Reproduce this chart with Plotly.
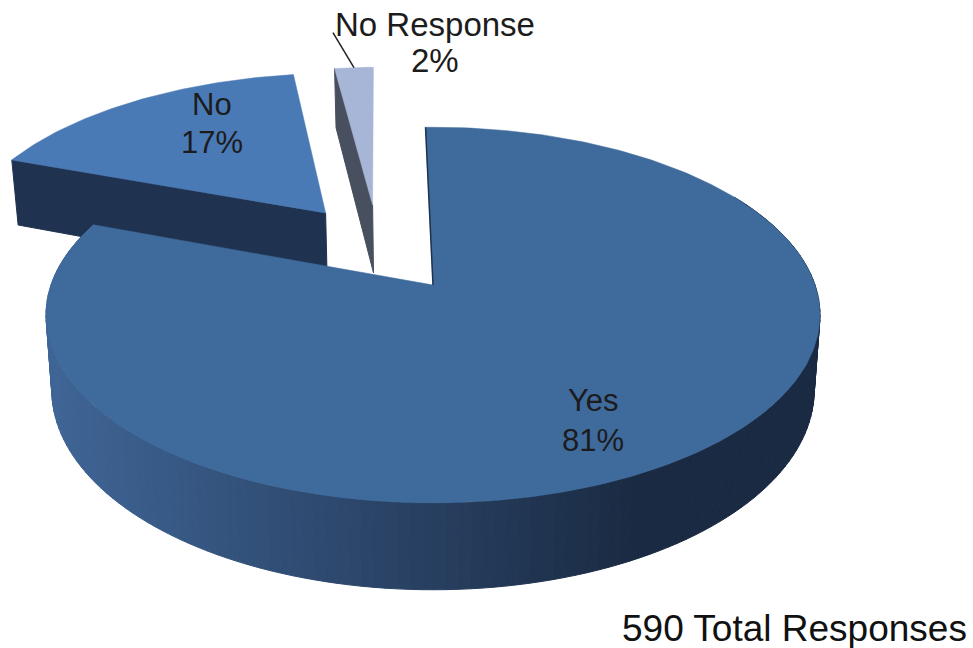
import numpy as np
import plotly.graph_objects as go

categories = ["Yes", "No", "No Response"]
percent_values = [81, 17, 2]
total_responses = 590

# Drawing geometry (pixels of the 973x648 page) for the perspective pie
CX, CY = 433, 285
RX, RY = 382, 183
PERSP = 0.16
DEPTH = 73
ROT = -1.3
DEPTH_SHRINK = 0.985
EXPLODE = {"Yes": (0, 0), "No": (-0.3, 0.42), "No Response": (-0.17, 0.47)}
TOP = {"Yes": "#3f6a9c", "No": "#4a7ab6", "No Response": "#a7b6d6"}
SIDE = {"No": "#1f3350", "No Response": "#484f5f"}


def project(u, v, down=0.0):
    s = 1 / (1 + PERSP * v)
    shrink = 1 - (1 - DEPTH_SHRINK) * down
    return CX + RX * u * s * shrink, CY - RY * v * s + DEPTH * s * down


def rim(theta, off):
    t = np.radians(theta + ROT)
    return np.sin(t) + off[0], np.cos(t) + off[1]


def poly(x, y, color, line=1.0):
    return go.Scatter(x=list(x), y=list(y), mode="lines", fill="toself", fillcolor=color,
                      line=dict(color=color, width=line), hoverinfo="skip", showlegend=False)


def mix(a, b, t):
    a = np.array([int(a[i:i + 2], 16) for i in (1, 3, 5)])
    b = np.array([int(b[i:i + 2], 16) for i in (1, 3, 5)])
    c = (a + (b - a) * np.clip(t, 0, 1)).round().astype(int)
    return f"rgb({c[0]},{c[1]},{c[2]})"


edges = np.cumsum([0] + percent_values) * 3.6
span = {c: (edges[i], edges[i + 1]) for i, c in enumerate(categories)}
traces = []

# Exploded slices, back to front: flat radial wall first, then the top face
for cat, wall_angle in (("No", span["No"][0]), ("No Response", span["No Response"][0])):
    off = EXPLODE[cat]
    u1, v1 = rim(wall_angle, off)
    ax0, ay0 = project(off[0], off[1])
    ax1, ay1 = project(off[0], off[1], 1)
    bx0, by0 = project(u1, v1)
    bx1, by1 = project(u1, v1, 1)
    traces.append(poly([ax0, bx0, bx1, ax1, ax0], [ay0, by0, by1, ay1, ay0], SIDE[cat]))
    th = np.linspace(span[cat][0], span[cat][1], 60)
    uu, vv = rim(th, off)
    px, py = project(uu, vv)
    traces.append(poly(np.r_[ax0, px, ax0], np.r_[ay0, py, ay0], TOP[cat], 0.5))

# Yes slice: shaded outer wall, then the top face
off = EXPLODE["Yes"]
start, end = span["Yes"]
ths = np.linspace(60, end, 150)
for a, b in zip(ths[:-1], ths[1:]):
    tt = np.linspace(a, b, 4)
    uu, vv = rim(tt, off)
    x0, y0 = project(uu, vv)
    x1, y1 = project(uu, vv, 1)
    col = mix("#3f6596", "#1a2a42", (x0.mean() - 50) / 590)
    traces.append(poly(np.r_[x0, x1[::-1], x0[0]], np.r_[y0, y1[::-1], y0[0]], col))
th = np.linspace(start, end, 300)
uu, vv = rim(th, off)
px, py = project(uu, vv)
ax, ay = project(0, 0)
traces.append(poly(np.r_[ax, px, ax], np.r_[ay, py, ay], TOP["Yes"], 0.5))
traces.append(go.Scatter(x=[ax, px[0]], y=[ay, py[0]], mode="lines",
                         line=dict(color="#1f3350", width=1.5), hoverinfo="skip", showlegend=False))

# Leader line for the smallest slice
ux, vx = rim(np.mean(span["No Response"]), EXPLODE["No Response"])
lx, ly = project(ux, vx)
traces.append(go.Scatter(x=[lx, lx - 21], y=[ly, ly - 35], mode="lines",
                         line=dict(color="#222222", width=1.5), hoverinfo="skip", showlegend=False))

fig = go.Figure(traces)
FONT = "Liberation Sans, Arial, sans-serif"
# x, name line y, percent line y, font size
label_pos = {"Yes": (593, 400, 440, 31), "No": (212, 104, 142, 31), "No Response": (435, 24, 60, 33)}
annotations = []
for c, p in zip(categories, percent_values):
    lx_, y1_, y2_, fs = label_pos[c]
    for txt, yy in ((c, y1_), (f"{p}%", y2_)):
        annotations.append(dict(x=lx_, y=yy, xref="x", yref="y", text=txt, showarrow=False,
                                font=dict(family=FONT, size=fs, color="#1c1c1c")))
annotations.append(dict(x=969, y=628, xref="x", yref="y", xanchor="right", showarrow=False,
                        text=f"{total_responses} Total Responses",
                        font=dict(family=FONT, size=37, color="#111111")))
fig.update_layout(
    width=973, height=648, margin=dict(l=0, r=0, t=0, b=0),
    paper_bgcolor="white", plot_bgcolor="white", showlegend=False, annotations=annotations,
    xaxis=dict(range=[0, 973], visible=False, fixedrange=True),
    yaxis=dict(range=[648, 0], visible=False, fixedrange=True),
)
fig.write_html("out.html", config=dict(displayModeBar=False),
               post_script="document.body.style.margin='0';document.body.style.overflow='hidden';")
